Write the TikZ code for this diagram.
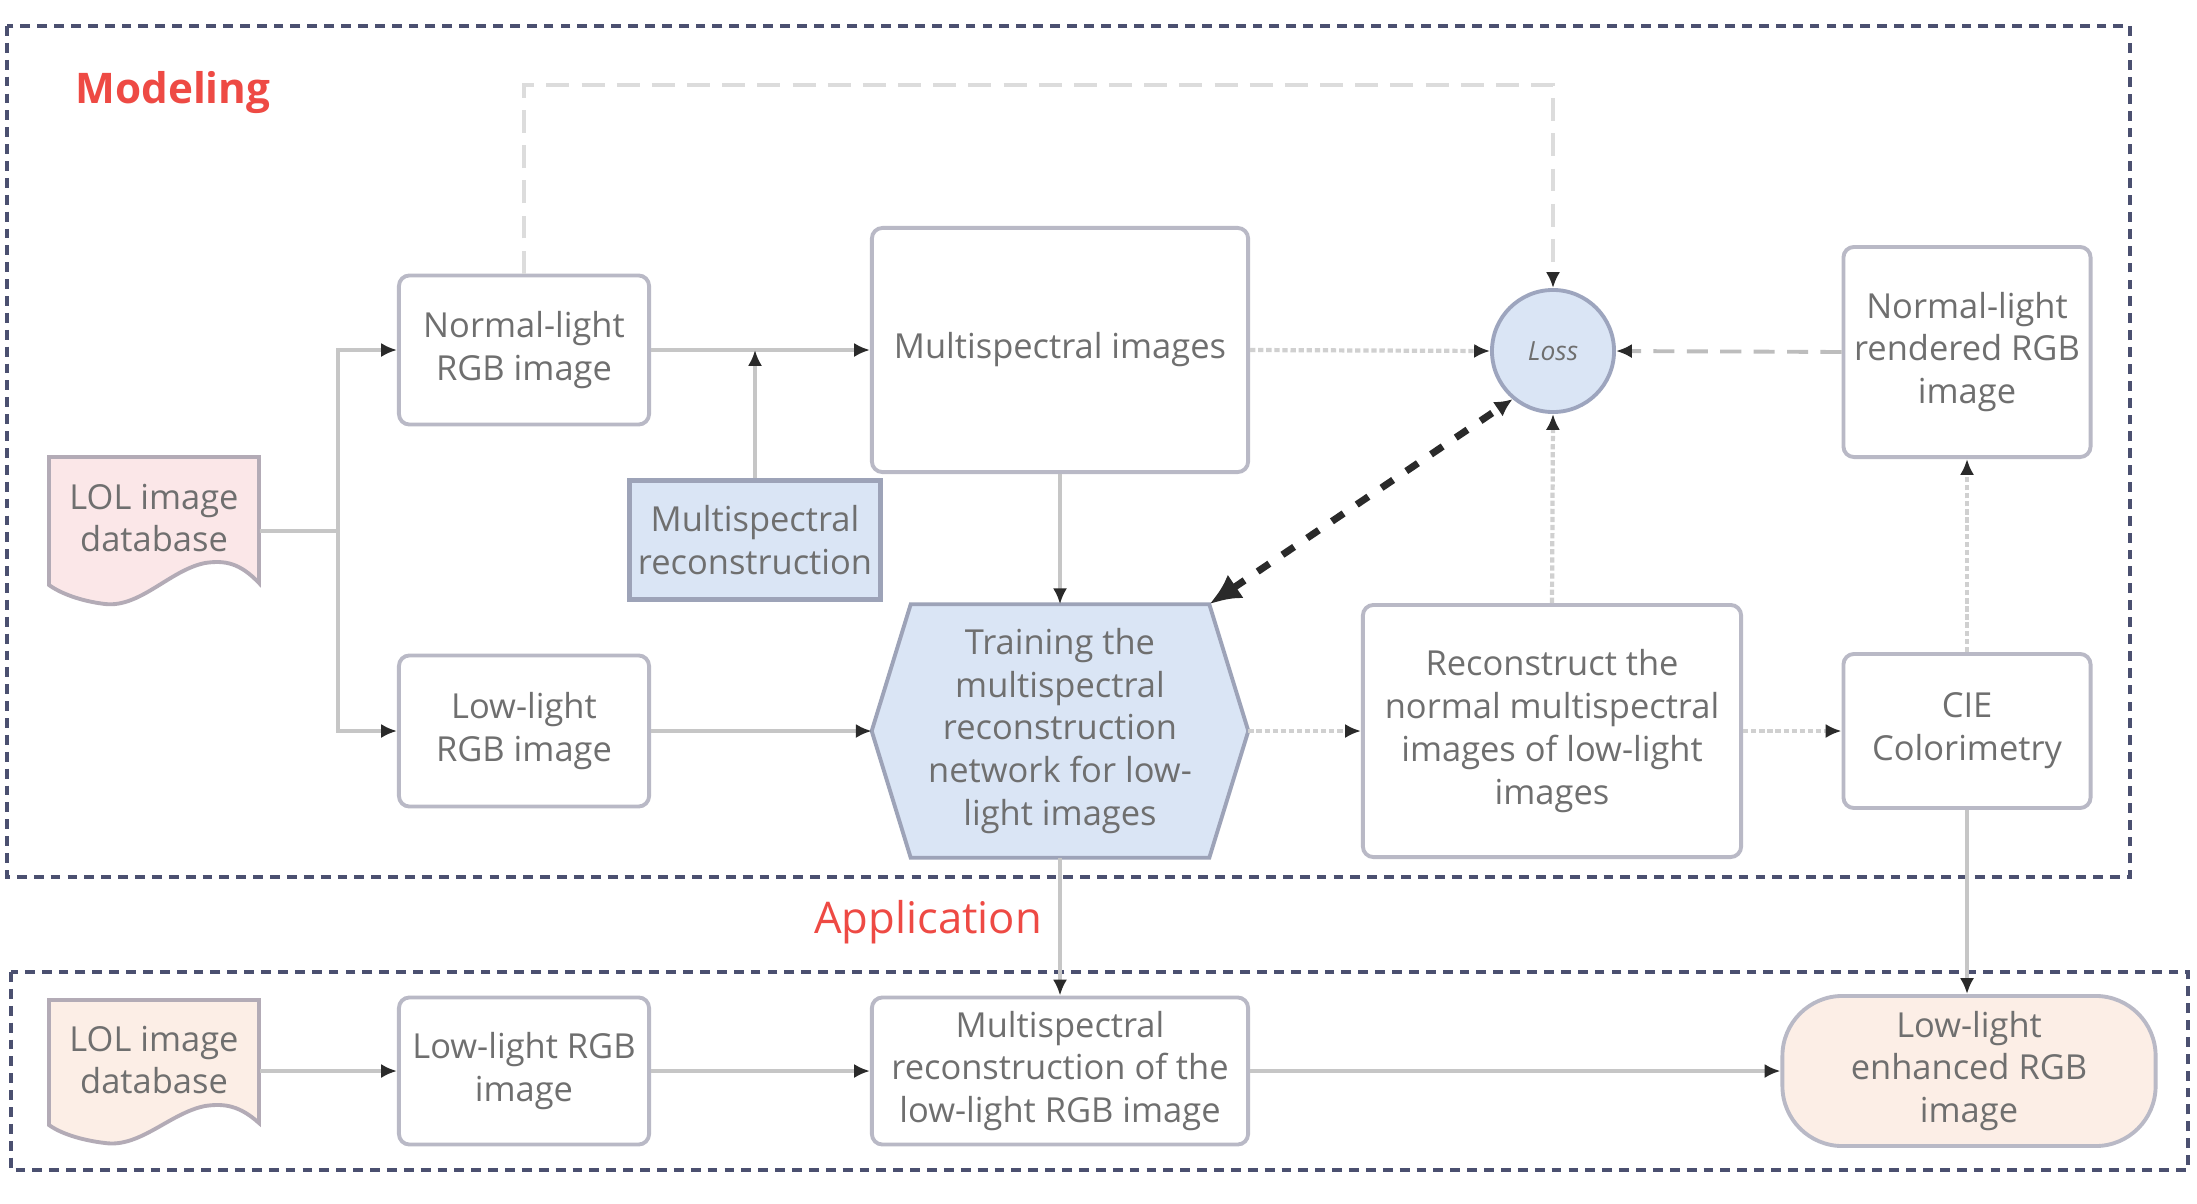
\documentclass[tikz,border=0pt]{standalone}
\usepackage{fontspec}
\setmainfont{Open Sans}
\usetikzlibrary{arrows.meta}
\pgfdeclarelayer{pagebg}
\pgfdeclarelayer{shapebg}
\pgfsetlayers{pagebg,shapebg,main}
\definecolor{txtgray}{HTML}{6F6F6F}
\definecolor{boxgray}{HTML}{B9B9C6}
\definecolor{lblue}{HTML}{DAE5F5}
\definecolor{recborder}{HTML}{9DA3B8}
\definecolor{circborder}{HTML}{9DA5BE}
\definecolor{linegray}{HTML}{C6C6C6}
\definecolor{dotgray}{HTML}{D0D0D0}
\definecolor{dashgray}{HTML}{BDBDBD}
\definecolor{topdashgray}{HTML}{DCDCDC}
\definecolor{arrowblack}{HTML}{2A2A2A}
\definecolor{pinkfill}{HTML}{FBE7E8}
\definecolor{docborder}{HTML}{B3ABB6}
\definecolor{peach}{HTML}{FCEEE6}
\definecolor{navy}{HTML}{4B5070}
\definecolor{labred}{HTML}{EE4A44}
\tikzset{
  txt/.style={font=\fontsize{9.8}{12.2}\selectfont, text=txtgray, align=center, inner sep=0pt},
  rbox/.style={txt, draw=boxgray, line width=1.1pt, rounded corners=3pt, fill=white},
  tip/.style={-{Latex[length=4.5pt,width=4pt,color=arrowblack]}},
  conn/.style={draw=linegray, line width=1.1pt, tip},
  plainline/.style={draw=linegray, line width=1.1pt},
  dotconn/.style={draw=dotgray, line width=1.2pt, dash pattern=on 1.5pt off 0.8pt, tip},
  dashconn/.style={draw=dashgray, line width=1.1pt, dash pattern=on 6pt off 3.5pt, tip},
  topdash/.style={draw=topdashgray, line width=1.3pt, dash pattern=on 6.5pt off 3.5pt, tip},
  thickdash/.style={draw=arrowblack, line width=2pt, dash pattern=on 4pt off 4.5pt,
    {Latex[length=9pt,width=8pt,color=arrowblack]}-{Latex[length=5pt,width=5pt,color=arrowblack]}},
  outerbox/.style={draw=navy, line width=1.4pt, dash pattern=on 2.8pt off 2pt},
  docshape/.style={draw=docborder, line width=1.1pt},
  lbl/.style={text=labred, inner sep=0pt}
}
\begin{document}
\begin{tikzpicture}[x=0.01cm,y=-0.01cm]
\begin{pgfonlayer}{pagebg}
\fill[white] (0,0) rectangle (2197,1203);
\end{pgfonlayer}
\useasboundingbox (0,0) rectangle (2197,1203);

% outer group frames
\draw[outerbox] (7,26) rectangle (2130,877);
\draw[outerbox] (11,972) rectangle (2188,1170);
\node[lbl, font=\bfseries\fontsize{12}{14}\selectfont] (modeling) at (173,93) {Modeling};
\node[lbl, font=\fontsize{12.4}{14}\selectfont] (application) at (928,922) {Application};

% document shapes (LOL image database)
\draw[docshape, fill=pinkfill] (49,457) -- (259,457) -- (259,583)
  .. controls (240,563) and (225,560) .. (205,563)
  .. controls (170,570) and (140,608) .. (105,604)
  .. controls (80,601) and (60,593) .. (49,585) -- cycle;
\begin{scope}[shift={(0,543)}]
\draw[docshape, fill=peach] (49,457) -- (259,457) -- (259,580)
  .. controls (240,563) and (225,560) .. (205,563)
  .. controls (170,570) and (140,605) .. (105,600)
  .. controls (80,597) and (60,590) .. (49,582) -- cycle;
\end{scope}
\node[txt, minimum width=2.1cm, minimum height=1.28cm] (lol1) at (154,518) {LOL image\\database};
\node[txt, minimum width=2.1cm, minimum height=1.24cm] (lol2) at (154,1060) {LOL image\\database};

% modeling nodes
\node[rbox, minimum width=2.5cm, minimum height=1.49cm] (nl) at (524,350) {Normal-light\\RGB image};
\node[rbox, minimum width=2.5cm, minimum height=1.51cm] (ll) at (524,731) {Low-light\\RGB image};
\node[txt, draw=recborder, fill=lblue, line width=1.4pt, minimum width=2.5cm, minimum height=1.19cm] (mr) at (755,540) {Multispectral\\reconstruction};
\node[rbox, minimum width=3.76cm, minimum height=2.44cm] (mi) at (1060,350) {Multispectral images};
\node[txt, circle, draw=circborder, fill=lblue, line width=1.1pt, minimum size=1.22cm, font=\itshape\fontsize{7.5}{9}\selectfont] (loss) at (1553,351) {Loss};
\node[rbox, minimum width=2.47cm, minimum height=2.10cm] (nr) at (1967,352) {Normal-light\\rendered RGB\\image};
\node[txt, minimum width=3.75cm, minimum height=2.52cm] (tr) at (1060,731) {Training the\\multispectral\\reconstruction\\network for low-\\light images};
\begin{pgfonlayer}{shapebg}
\draw[draw=recborder, fill=lblue, line width=1.1pt] (tr.west) -- ([xshift=0.39cm]tr.north west) -- ([xshift=-0.39cm]tr.north east)
  -- (tr.east) -- ([xshift=-0.39cm]tr.south east) -- ([xshift=0.39cm]tr.south west) -- cycle;
\end{pgfonlayer}
\node[rbox, minimum width=3.78cm, minimum height=2.52cm] (rc) at (1552,731) {Reconstruct the\\normal multispectral\\images of low-light\\images};
\node[rbox, minimum width=2.47cm, minimum height=1.54cm] (cie) at (1967,731) {CIE\\Colorimetry};

% application nodes
\node[rbox, minimum width=2.5cm, minimum height=1.47cm] (ll2) at (524,1071) {Low-light RGB\\image};
\node[rbox, minimum width=3.76cm, minimum height=1.47cm] (mr2) at (1060,1071) {Multispectral\\reconstruction of the\\low-light RGB image};
\node[txt, draw=boxgray, line width=1.1pt, fill=peach, rounded corners=0.6cm, minimum width=3.73cm, minimum height=1.5cm] (le) at (1969,1071) {Low-light\\enhanced RGB\\image};

% connectors (modeling)
\coordinate (j1) at (338,531);
\draw[plainline] ([yshift=-0.13cm]lol1.east) -- (j1);
\draw[conn] (j1) |- (nl.west);
\draw[conn] (j1) |- (ll.west);
\draw[conn] (nl.east) -- (mi.west);
\draw[conn] (mr.north) -- (mr.north |- nl.east);
\draw[conn] (mi.south) -- (tr.north);
\draw[conn] (ll.east) -- (tr.west);
\draw[dotconn] (tr.east) -- (rc.west);
\draw[dotconn] (rc.east) -- (cie.west);
\draw[dotconn] (cie.north) -- (nr.south);
\draw[dashconn] (nr.west) -- (loss.east);
\draw[dotconn] (mi.east) -- (loss.west);
\draw[dotconn] (rc.north) -- (loss.south);
\coordinate (tl) at (524,85);
\draw[topdash] (nl.north) -- (tl) -| (loss.north);
\draw[thickdash] ([xshift=-0.39cm]tr.north east) -- (loss.230);

% connectors (modeling -> application)
\draw[conn] (tr.south) -- (mr2.north);
\draw[conn] (cie.south) -- (cie.south |- le.north);

% connectors (application)
\draw[conn] ([yshift=-0.11cm]lol2.east) -- ([yshift=-0.11cm]lol2.east -| ll2.west);
\draw[conn] (ll2.east) -- (mr2.west);
\draw[conn] (mr2.east) -- (le.west);
\end{tikzpicture}
\end{document}
